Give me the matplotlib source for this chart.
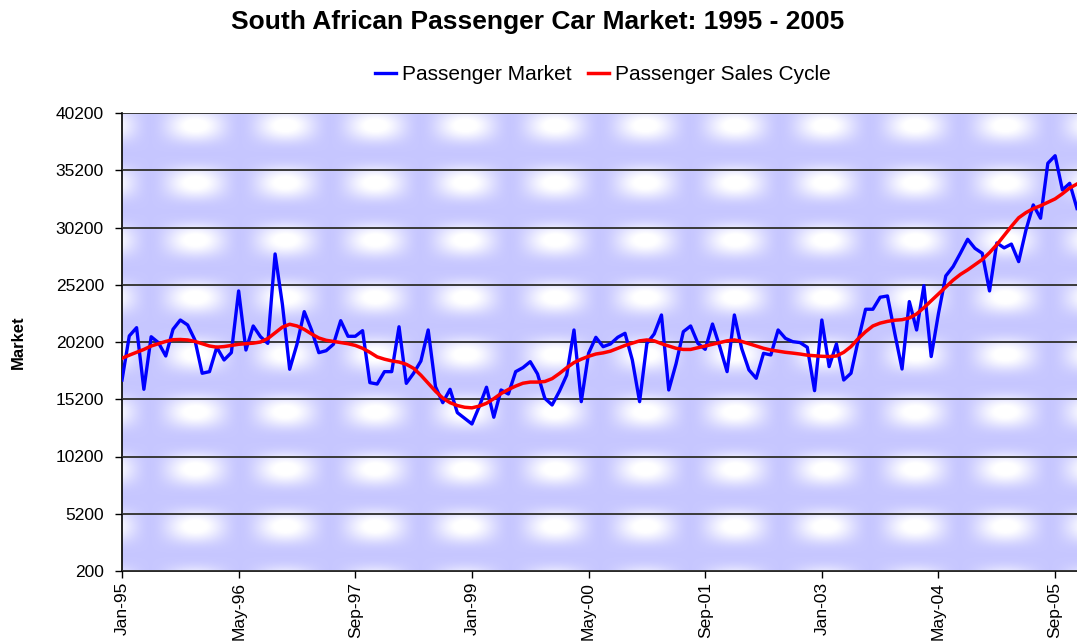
import numpy as np
import pandas as pd
import matplotlib
matplotlib.use("Agg")
import matplotlib.pyplot as plt

plt.rcParams['font.family'] = ['Liberation Sans', 'DejaVu Sans']

# monthly data, Jan-95 .. Dec-05
months = pd.date_range("1995-01-01", periods=132, freq="MS")

passenger_market = [
    16880, 20730, 21450, 16070, 20660, 20140, 18980, 21310, 22120, 21690,
    20380, 17470, 17610, 19740, 18630, 19270, 24660, 19500, 21600, 20660,
    20080, 27890, 23500, 17820, 20000, 22850, 21250, 19270, 19440, 20000,
    22060, 20700, 20700, 21190, 16650, 16530, 17610, 17610, 21530, 16590,
    17470, 18540, 21250, 16300, 14900, 16070, 14030, 13540, 13040, 14560,
    16250, 13630, 16010, 15660, 17610, 17960, 18480, 17410, 15280, 14700,
    15900, 17300, 21250, 14990, 19210, 20610, 19790, 20030, 20610, 20960,
    18630, 14990, 20080, 20900, 22560, 16010, 18300, 21100, 21600, 20080,
    19560, 21770, 19790, 17610, 22560, 19640, 17760, 17030, 19210, 19070,
    21250, 20520, 20230, 20150, 19740, 15950, 22120, 18050, 20030, 16880,
    17470, 20380, 23060, 23060, 24110, 24220, 20960, 17840, 23730, 21250,
    25120, 18930, 22700, 25970, 26780, 27950, 29170, 28380, 27950, 24660,
    28850, 28420, 28750, 27220, 29980, 32170, 31010, 35810, 36470, 33480,
    34060, 31860,
]

sales_cycle = [
    18780, 19050, 19300, 19550, 19850, 20050, 20250, 20400, 20420, 20380,
    20250, 20050, 19850, 19750, 19800, 19900, 20000, 20050, 20100, 20200,
    20500, 21000, 21500, 21750, 21600, 21300, 20900, 20550, 20350, 20250,
    20150, 20050, 19900, 19650, 19300, 18900, 18700, 18550, 18450, 18250,
    17900, 17300, 16600, 15900, 15300, 14900, 14650, 14500, 14450, 14600,
    14850, 15250, 15700, 16050, 16350, 16600, 16700, 16700, 16750, 17000,
    17450, 17950, 18400, 18700, 18950, 19150, 19250, 19400, 19650, 19900,
    20100, 20300, 20380, 20300, 20050, 19850, 19650, 19550, 19550, 19700,
    19850, 20000, 20150, 20300, 20380, 20250, 20050, 19850, 19650, 19500,
    19400, 19300, 19230, 19150, 19050, 19000, 18950, 18930, 18980, 19300,
    19800, 20500, 21100, 21600, 21850, 22000, 22100, 22150, 22300, 22650,
    23200, 23800, 24400, 25000, 25600, 26100, 26500, 26950, 27400, 28000,
    28700, 29500, 30300, 31050, 31500, 31850, 32100, 32400, 32700, 33150,
    33650, 34000,
]

y_ticks = list(range(200, 40201, 5000))
tick_every = 16

x = np.arange(len(months))
tick_pos = x[::tick_every]
tick_labels = [m.strftime("%b-%y") for m in months[::tick_every]]

fig = plt.figure(figsize=(10.77, 6.43), dpi=100)
ax = fig.add_axes([122 / 1077, 72 / 643, 955 / 1077, 458 / 643])

# patterned blue/white fill behind the plot
W, H = 955, 458
X, Y = np.meshgrid(np.arange(W), np.arange(H))
fx = 0.5 + 0.5 * np.cos(2 * np.pi * (X - 73) / 90.0)
fy = 0.5 + 0.5 * np.cos(2 * np.pi * (Y - 12) / 57.25)
bright = np.clip(fx ** 0.9 * fy ** 1.3 * 1.15, 0, 1)
base = np.array([0.78, 0.78, 1.0])
img = base + (1 - base) * bright[..., None]
ax.imshow(img, extent=[0, 1, 0, 1], transform=ax.transAxes,
          aspect='auto', zorder=0, interpolation='bilinear')

ax.plot(x, passenger_market, color='#0000FF', lw=2.4, label='Passenger Market', zorder=3)
ax.plot(x, sales_cycle, color='#FF0000', lw=2.5, label='Passenger Sales Cycle', zorder=4)

ax.set_xlim(0, 131)
ax.set_ylim(200, 40200)
ax.set_yticks(y_ticks)
ax.set_yticklabels([str(v) for v in y_ticks], fontsize=12.5)
ax.set_xticks(tick_pos)
ax.set_xticklabels(tick_labels, rotation=90, fontsize=12.5)
ax.tick_params(axis='both', direction='out', length=5, width=1, color='black')
ax.tick_params(axis='y', pad=8)
ax.tick_params(axis='x', pad=3)

ax.yaxis.grid(True, color='#3a3a3a', lw=1.4, zorder=1)
ax.set_axisbelow(False)
for s in ['top', 'right']:
    ax.spines[s].set_visible(False)
for s in ['left', 'bottom']:
    ax.spines[s].set_color('black')
    ax.spines[s].set_linewidth(1.2)

ax.set_ylabel('Market', fontsize=12, fontweight='bold')
ax.yaxis.set_label_coords(-96 / 955, 0.5)

fig.text(538 / 1077, 1 - 22 / 643, 'South African Passenger Car Market: 1995 - 2005',
         ha='center', va='center', fontsize=19, fontweight='bold')
fig.legend(loc='center', bbox_to_anchor=(603 / 1077, 1 - 75 / 643), ncol=2,
           frameon=False, fontsize=15, handlelength=1.0, handletextpad=0.3,
           columnspacing=0.8)

fig.savefig('out.png', dpi=100)
